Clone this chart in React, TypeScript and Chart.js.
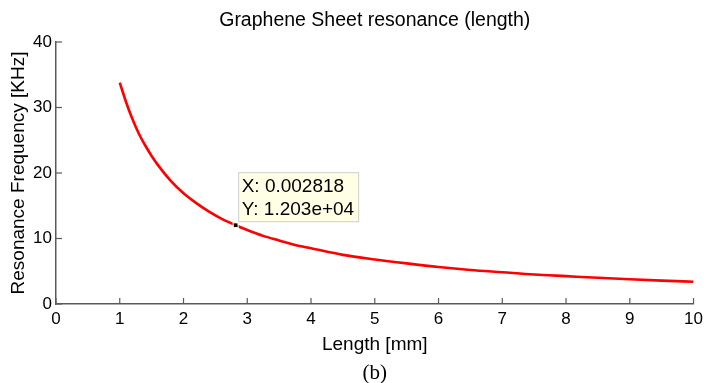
import React, { useEffect, useRef } from "react";
import { Chart, registerables } from "chart.js";

Chart.register(...registerables);

// Values
const lengthsMm = [1, 1.1, 1.2, 1.3, 1.4, 1.5, 1.6, 1.8, 2, 2.2, 2.4, 2.6, 2.818, 3, 3.25, 3.5, 3.75, 4, 4.5, 5, 5.5, 6, 6.5, 7, 7.5, 8, 8.5, 9, 9.5, 10];
const freqKHz = [33.8, 30.8, 28.2, 26.0, 24.2, 22.6, 21.2, 18.8, 16.9, 15.4, 14.1, 13.0, 12.03, 11.3, 10.4, 9.7, 9.0, 8.5, 7.5, 6.8, 6.2, 5.65, 5.2, 4.85, 4.5, 4.25, 4.0, 3.77, 3.57, 3.39];

const xTickValues = [0, 1, 2, 3, 4, 5, 6, 7, 8, 9, 10];
const yTickValues = [0, 10, 20, 30, 40];

const tipPoint = { x: 2.818, y: 12.03 };
const tipLines = ["X: 0.002818", "Y: 1.203e+04"];

const titleText = "Graphene Sheet resonance (length)";
const xLabel = "Length [mm]";
const yLabel = "Resonance Frequency [KHz]";
const captionText = "(b)";

const SANS = "'Liberation Sans', Arial, Helvetica, sans-serif";
const SERIF = "'Liberation Serif', 'DejaVu Serif', serif";
const AXIS_COLOR = "#5a5a5a";

const inwardTicks = {
  id: "inwardTicks",
  afterDatasetsDraw(chart: any) {
    const { ctx, scales, chartArea } = chart;
    const x = scales.x;
    const y = scales.y;
    ctx.save();
    ctx.strokeStyle = AXIS_COLOR;
    ctx.lineWidth = 1.2;
    for (const v of xTickValues) {
      const px = x.getPixelForValue(v);
      ctx.beginPath();
      ctx.moveTo(px, chartArea.bottom);
      ctx.lineTo(px, chartArea.bottom - 6);
      ctx.stroke();
    }
    for (const v of yTickValues) {
      const py = y.getPixelForValue(v);
      ctx.beginPath();
      ctx.moveTo(chartArea.left, py);
      ctx.lineTo(chartArea.left + 6, py);
      ctx.stroke();
    }
    ctx.restore();
  },
};

const captions = {
  id: "captions",
  afterDraw(chart: any) {
    const { ctx, chartArea } = chart;
    const cx = (chartArea.left + chartArea.right) / 2;
    ctx.save();
    ctx.fillStyle = "#000";
    ctx.textAlign = "center";
    ctx.textBaseline = "middle";
    ctx.font = `19.5px ${SANS}`;
    ctx.fillText(titleText, cx, 21);
    ctx.font = `21px ${SERIF}`;
    ctx.fillText(captionText, cx, 373.5);
    ctx.restore();
  },
};

const dataTip = {
  id: "dataTip",
  afterDatasetsDraw(chart: any) {
    const { ctx, scales } = chart;
    const px = scales.x.getPixelForValue(tipPoint.x);
    const py = scales.y.getPixelForValue(tipPoint.y);
    ctx.save();
    ctx.fillStyle = "#000";
    ctx.strokeStyle = "#ffffe1";
    ctx.lineWidth = 1;
    ctx.fillRect(px - 2, py - 2, 4, 4);
    ctx.strokeRect(px - 2.5, py - 2.5, 5, 5);
    const left = px + 2.5;
    const bottom = py - 3;
    const w = 121;
    const h = 50;
    ctx.fillStyle = "#ffffe6";
    ctx.fillRect(left, bottom - h, w, h);
    ctx.strokeStyle = "#cfcfcf";
    ctx.lineWidth = 1;
    ctx.strokeRect(left + 0.5, bottom - h + 0.5, w - 1, h - 1);
    ctx.fillStyle = "#000";
    ctx.font = `19px ${SANS}`;
    ctx.textBaseline = "alphabetic";
    ctx.textAlign = "left";
    ctx.fillText(tipLines[0], left + 3.5, bottom - h + 20);
    ctx.fillText(tipLines[1], left + 3.5, bottom - h + 42.7);
    ctx.restore();
  },
};

export default function App() {
  const canvasRef = useRef<HTMLCanvasElement | null>(null);

  useEffect(() => {
    const canvas = canvasRef.current;
    if (!canvas) return;
    const points = lengthsMm.map((l, i) => ({ x: l, y: freqKHz[i] }));
    const chart = new Chart(canvas, {
      type: "line",
      data: {
        datasets: [
          {
            data: points,
            borderColor: "#ff0000",
            borderWidth: 2.6,
            pointRadius: 0,
            fill: false,
            cubicInterpolationMode: "monotone",
          },
        ],
      },
      options: {
        responsive: false,
        animation: false,
        layout: { padding: { top: 42, left: 0, right: 13, bottom: 0 }, autoPadding: false },
        plugins: {
          legend: { display: false },
          tooltip: { enabled: false },
          title: { display: false },
        },
        scales: {
          x: {
            type: "linear",
            min: 0,
            max: 10,
            afterFit(scale: any) {
              scale.height = 79;
            },
            ticks: {
              stepSize: 1,
              color: "#000",
              padding: 5,
              maxRotation: 0,
              font: { family: SANS, size: 17 },
            },
            grid: { drawOnChartArea: false, drawTicks: false },
            border: { display: true, color: AXIS_COLOR, width: 1.5 },
            title: {
              display: true,
              text: xLabel,
              color: "#000",
              font: { family: SANS, size: 19, lineHeight: 1.2 },
              padding: { top: 0, bottom: 26.6 },
            },
          },
          y: {
            type: "linear",
            min: 0,
            max: 40,
            afterFit(scale: any) {
              scale.width = 56;
            },
            ticks: {
              stepSize: 10,
              color: "#000",
              padding: 4,
              font: { family: SANS, size: 17 },
            },
            grid: { drawOnChartArea: false, drawTicks: false },
            border: { display: true, color: AXIS_COLOR, width: 1.5 },
            title: {
              display: true,
              text: yLabel,
              color: "#000",
              font: { family: SANS, size: 19, lineHeight: 1.2 },
              padding: { top: 7.6, bottom: 0 },
            },
          },
        },
      },
      plugins: [inwardTicks, dataTip, captions],
    } as any);
    return () => chart.destroy();
  }, []);

  return (
    <canvas
      ref={canvasRef}
      width={708}
      height={383}
      style={{ position: "absolute", left: 0, top: 0, display: "block" }}
    />
  );
}
